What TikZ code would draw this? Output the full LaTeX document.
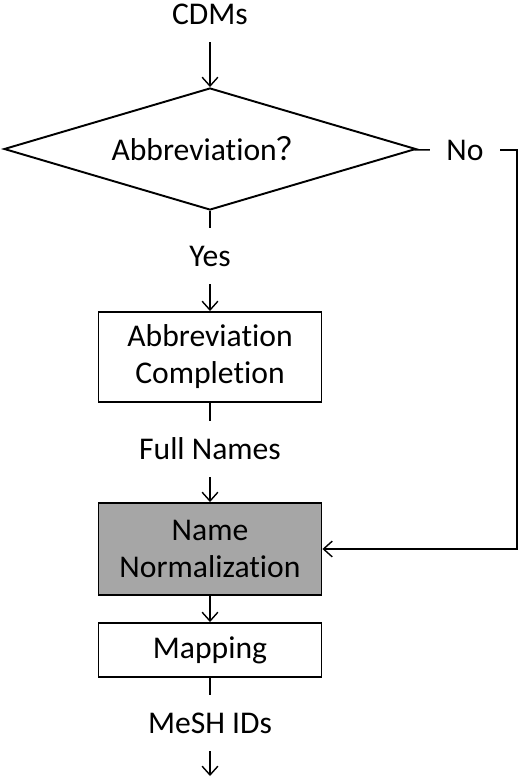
\documentclass[tikz,border=0pt]{standalone}
\usepackage{fontspec}
\setmainfont{Carlito}[RawFeature={-liga;-clig;-calt;-dlig}]
\newfontfamily\cjk{Noto Sans CJK SC}
\usetikzlibrary{shapes.geometric,arrows.meta}

\begin{document}
\begin{tikzpicture}[x=0.02cm, y=-0.02cm, line width=0.8pt,
                    >={Straight Barb[length=5pt,width=9pt]},
                    every node/.style={font=\fontsize{18}{21}\selectfont},
                    procbox/.style={rectangle,draw,line width=1.1pt,minimum width=4.46cm,align=center},
                    decision/.style={diamond,draw,line width=1.1pt,shape aspect=3.38,
                                     minimum width=8.24cm,minimum height=2.44cm,inner sep=0pt},
                    flow label/.style={text height=11.6pt,text depth=0pt,inner xsep=9pt,inner ysep=10pt}]

  \useasboundingbox (0, 0) rectangle (520, 780);

  \node[flow label] (cdms) at (210, 14) {CDMs};
  \node[decision] (abbr) at (210, 149) {Abbreviation{\cjk ？}};
  \node[flow label] (yes) at (210, 256) {Yes};
  \node[flow label] (no) at (465, 150) {No};
  \node[procbox, minimum height=1.8cm] (compl) at (210, 357) {Abbreviation\\Completion};
  \node[flow label] (full) at (210, 449) {Full Names};
  \node[procbox, minimum height=1.84cm, fill=black!35] (norm) at (210, 549) {Name\\Normalization};
  \node[procbox, minimum height=1.08cm] (map) at (210, 650) {Mapping};
  \node[flow label] (mesh) at (210, 723) {MeSH IDs};
  \coordinate (out) at (210, 776);
  \coordinate (turn) at (517, 150);

  \path
  (abbr) edge (yes)
  (compl) edge (full)
  (map) edge (mesh)
  (abbr) edge (no);

  \path[->]
  (cdms) edge (abbr)
  (yes) edge (compl)
  (full) edge (norm)
  (norm) edge (map)
  (mesh) edge (out);

  \draw[->] (no) -- (turn) |- (norm);

\end{tikzpicture}
\end{document}
